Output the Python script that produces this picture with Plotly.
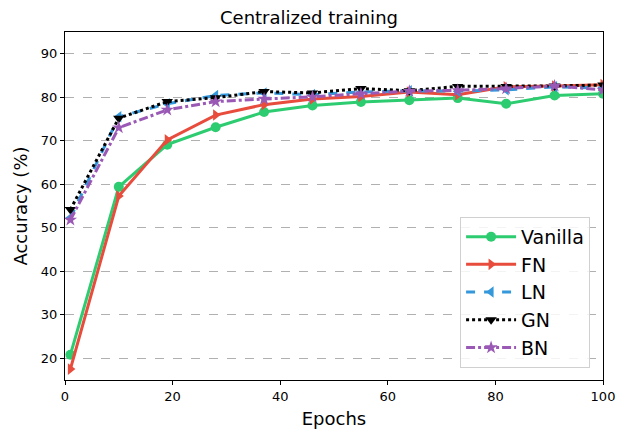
import plotly.graph_objects as go

epochs = [1, 10, 19, 28, 37, 46, 55, 64, 73, 82, 91, 100]
vanilla = [20.8, 59.4, 69.1, 73.1, 76.6, 78.1, 78.9, 79.3, 79.8, 78.5, 80.4, 80.8]
fn = [17.5, 57.3, 70.2, 75.9, 78.3, 79.6, 80.2, 81.2, 80.6, 82.4, 82.6, 82.9]
ln = [52.3, 75.5, 78.5, 80.4, 81.0, 80.6, 81.2, 81.5, 81.4, 81.7, 82.4, 82.1]
gn = [54.2, 75.2, 79.0, 79.9, 81.3, 81.0, 82.0, 81.5, 82.5, 82.5, 82.6, 82.8]
bn = [51.8, 73.0, 77.1, 79.0, 79.6, 80.1, 80.8, 81.4, 81.6, 82.0, 82.6, 81.7]

series = [
    ("Vanilla", vanilla, "#2ecc71", "solid", "circle"),
    ("FN", fn, "#e74c3c", "solid", "triangle-right"),
    ("LN", ln, "#3498db", "dash", "triangle-left"),
    ("GN", gn, "black", "dot", "triangle-down"),
    ("BN", bn, "#9b59b6", "dashdot", "star"),
]

fig = go.Figure()
for name, vals, color, dash, sym in series:
    fig.add_trace(go.Scatter(
        x=epochs, y=vals, name=name, mode="lines+markers",
        line=dict(color=color, width=3, dash=dash),
        marker=dict(symbol=sym, size=10, color=color),
    ))

fig.update_layout(
    width=618, height=429,
    margin=dict(l=65, r=15, t=32, b=49),
    paper_bgcolor="white", plot_bgcolor="white",
    font=dict(family="DejaVu Sans", color="black"),
    title=dict(text="Centralized training", x=0.5, xanchor="center",
               y=0.958, yanchor="middle", font=dict(size=18)),
    legend=dict(x=0.976, y=0.035, xanchor="right", yanchor="bottom",
                bordercolor="#d0d0d0", borderwidth=1, bgcolor="rgba(255,255,255,0.85)",
                font=dict(size=19), tracegroupgap=0, itemwidth=50),
    showlegend=True,
)
fig.update_xaxes(
    range=[0, 100], tickvals=[0, 20, 40, 60, 80, 100],
    showline=True, linecolor="black", linewidth=1.2, mirror=True,
    ticks="outside", ticklen=4, tickcolor="black", showgrid=False,
    tickfont=dict(size=13), zeroline=False, automargin=False,
    title=dict(text="Epochs", font=dict(size=18)),
)
fig.update_yaxes(
    range=[15, 95], tickvals=[20, 30, 40, 50, 60, 70, 80, 90],
    showline=True, linecolor="black", linewidth=1.2, mirror=True,
    ticks="outside", ticklen=4, tickcolor="black",
    showgrid=True, gridcolor="#b0b0b0", griddash="dash", gridwidth=1,
    tickfont=dict(size=13), zeroline=False, automargin=False,
    title=dict(text="Accuracy (%)", font=dict(size=18), standoff=8),
)
fig.write_html("out.html")
